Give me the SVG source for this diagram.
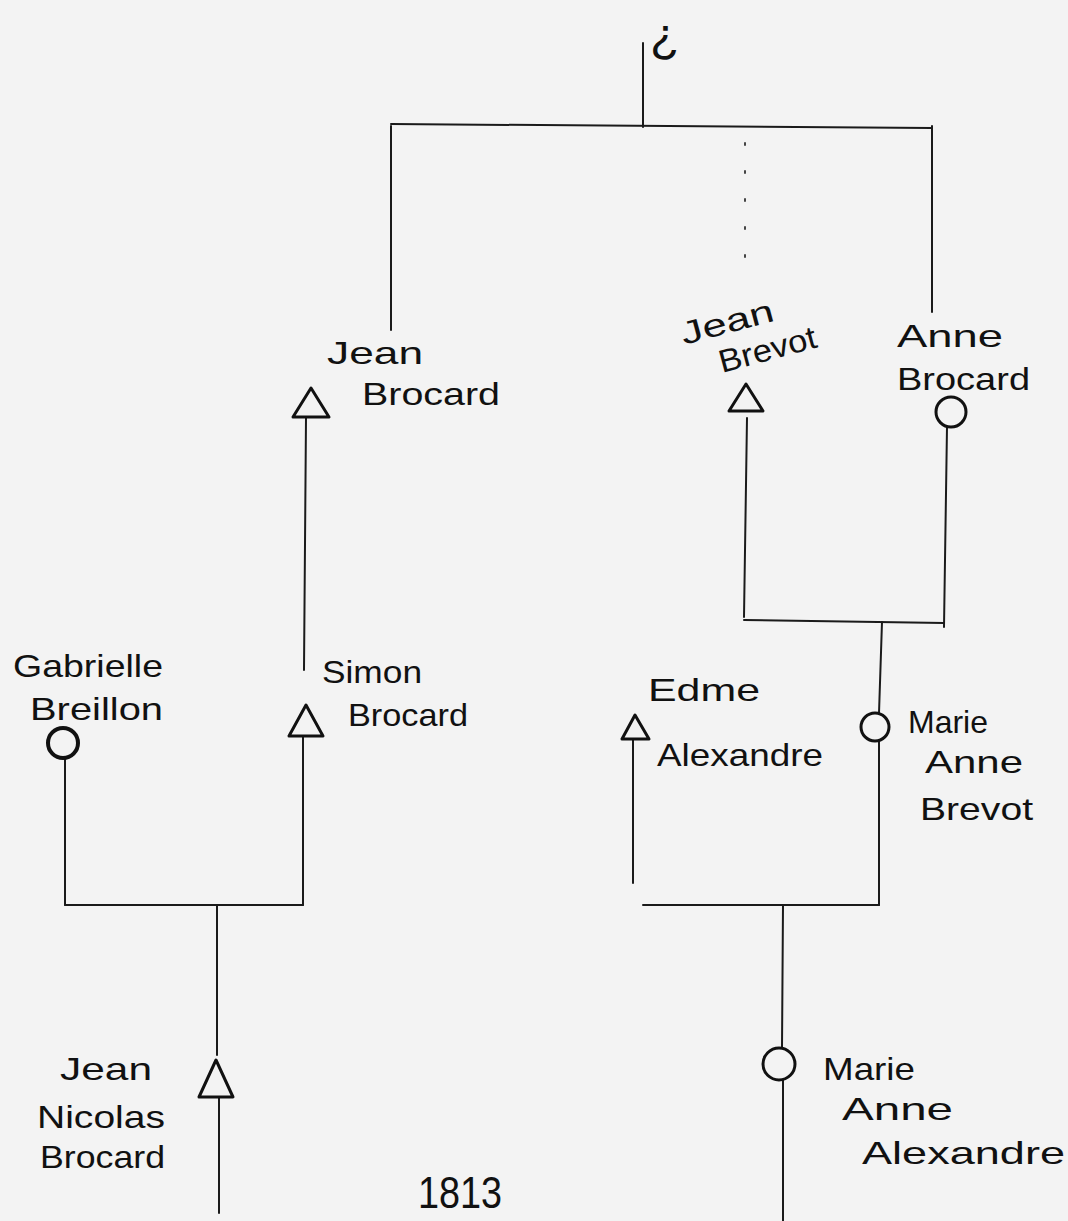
<svg xmlns="http://www.w3.org/2000/svg" width="1068" height="1221" viewBox="0 0 1068 1221">
<style>
.bg{fill:#f3f3f3}
.ln{stroke:#1a1a1a;stroke-width:2;fill:none;stroke-linecap:round}
.dot{stroke:#444;stroke-width:2;fill:none;stroke-dasharray:2 26;stroke-linecap:round}
.m{stroke:#111;stroke-width:3;fill:none;stroke-linejoin:round}
.t{font-family:"Liberation Sans","DejaVu Sans",sans-serif;font-size:32px;fill:#111}
</style>
<rect class="bg" width="1068" height="1221"/>
<g id="connectors">
<line class="ln" x1="643" y1="43" x2="643" y2="127"/>
<line class="ln" x1="391" y1="124" x2="932" y2="128"/>
<line class="ln" x1="391" y1="126" x2="391" y2="330"/>
<line class="ln" x1="932" y1="126" x2="932" y2="312"/>
<line class="dot" x1="745" y1="143" x2="745" y2="278"/>
<line class="ln" x1="306" y1="418" x2="304" y2="670"/>
<line class="ln" x1="303" y1="737" x2="303" y2="905"/>
<line class="ln" x1="65" y1="758" x2="65" y2="905"/>
<line class="ln" x1="65" y1="905" x2="303" y2="905"/>
<line class="ln" x1="217" y1="905" x2="217" y2="1055"/>
<line class="ln" x1="219" y1="1097" x2="219" y2="1213"/>
<line class="ln" x1="747" y1="418" x2="744" y2="617"/>
<line class="ln" x1="947" y1="427" x2="944" y2="627"/>
<line class="ln" x1="744" y1="620" x2="944" y2="623"/>
<line class="ln" x1="882" y1="622" x2="879" y2="713"/>
<line class="ln" x1="879" y1="741" x2="879" y2="905"/>
<line class="ln" x1="643" y1="905" x2="879" y2="905"/>
<line class="ln" x1="633" y1="739" x2="633" y2="883"/>
<line class="ln" x1="783" y1="905" x2="782" y2="1048"/>
<line class="ln" x1="783" y1="1080" x2="783" y2="1221"/>
</g>
<g id="mark">
<text class="t" x="650" y="52" style="font-size:48px">¿</text>
</g>
<g id="jean-brocard">
<polygon class="m" points="293,417 311,388 329,417"/>
<text class="t" x="327" y="364" textLength="96" lengthAdjust="spacingAndGlyphs">Jean</text>
<text class="t" x="362" y="405" textLength="138" lengthAdjust="spacingAndGlyphs">Brocard</text>
</g>
<g id="jean-brevot">
<polygon class="m" points="729,411 746,384 763,411"/>
<text class="t" transform="rotate(-15 684 345)" x="684" y="345" textLength="95" lengthAdjust="spacingAndGlyphs">Jean</text>
<text class="t" transform="rotate(-15 722 373)" x="722" y="373" textLength="100" lengthAdjust="spacingAndGlyphs">Brevot</text>
</g>
<g id="anne-brocard">
<circle class="m" cx="951" cy="412" r="15"/>
<text class="t" x="897" y="347" textLength="106" lengthAdjust="spacingAndGlyphs">Anne</text>
<text class="t" x="897" y="390" textLength="133" lengthAdjust="spacingAndGlyphs">Brocard</text>
</g>
<g id="gabrielle-breillon">
<circle class="m" cx="63" cy="743" r="15" style="stroke-width:4"/>
<text class="t" x="13" y="677" textLength="150" lengthAdjust="spacingAndGlyphs">Gabrielle</text>
<text class="t" x="30" y="720" textLength="133" lengthAdjust="spacingAndGlyphs">Breillon</text>
</g>
<g id="simon-brocard">
<polygon class="m" points="289,736 306,705 323,736"/>
<text class="t" x="322" y="683" textLength="100" lengthAdjust="spacingAndGlyphs">Simon</text>
<text class="t" x="348" y="726" textLength="120" lengthAdjust="spacingAndGlyphs">Brocard</text>
</g>
<g id="edme-alexandre">
<polygon class="m" points="622,739 635,715 649,739"/>
<text class="t" x="648" y="701" textLength="112" lengthAdjust="spacingAndGlyphs">Edme</text>
<text class="t" x="657" y="766" textLength="166" lengthAdjust="spacingAndGlyphs">Alexandre</text>
</g>
<g id="marie-anne-brevot">
<circle class="m" cx="875" cy="727" r="14"/>
<text class="t" x="908" y="733" textLength="80" lengthAdjust="spacingAndGlyphs">Marie</text>
<text class="t" x="925" y="773" textLength="98" lengthAdjust="spacingAndGlyphs">Anne</text>
<text class="t" x="920" y="820" textLength="113" lengthAdjust="spacingAndGlyphs">Brevot</text>
</g>
<g id="jean-nicolas-brocard">
<polygon class="m" points="199,1097 216,1060 233,1097"/>
<text class="t" x="60" y="1080" textLength="92" lengthAdjust="spacingAndGlyphs">Jean</text>
<text class="t" x="37" y="1128" textLength="128" lengthAdjust="spacingAndGlyphs">Nicolas</text>
<text class="t" x="40" y="1168" textLength="125" lengthAdjust="spacingAndGlyphs">Brocard</text>
</g>
<g id="marie-anne-alexandre">
<circle class="m" cx="779" cy="1064" r="16"/>
<text class="t" x="823" y="1080" textLength="92" lengthAdjust="spacingAndGlyphs">Marie</text>
<text class="t" x="842" y="1120" textLength="111" lengthAdjust="spacingAndGlyphs">Anne</text>
<text class="t" x="862" y="1164" textLength="203" lengthAdjust="spacingAndGlyphs">Alexandre</text>
</g>
<g id="year">
<text class="t" x="418" y="1208" textLength="84" lengthAdjust="spacingAndGlyphs" style="font-size:44px">1813</text>
</g>
</svg>
